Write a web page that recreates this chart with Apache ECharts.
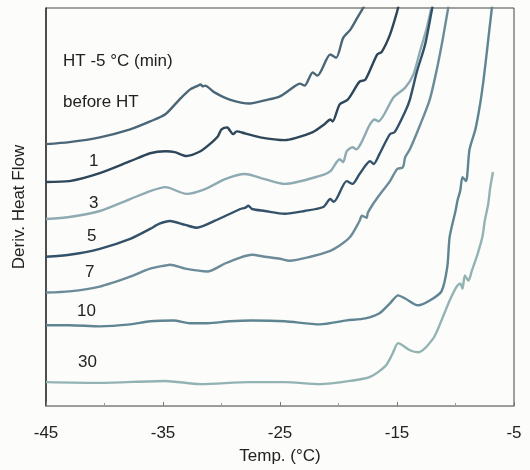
<!DOCTYPE html>
<html>
<head>
<meta charset="utf-8">
<script src="https://cdn.jsdelivr.net/npm/echarts@6/dist/echarts.min.js"></script>
<style>
  html, body { margin: 0; padding: 0; background: #fcfcfa; }
  #chart { width: 530px; height: 470px; }
</style>
</head>
<body>
<div id="chart"></div>
<script>
// x ticks (deg C)
var xTicks = [-45, -35, -25, -15, -5];

// curves: [temp, deriv. heat flow (arb.)]
var beforeHT = [[-45, 65.8], [-43, 66.3], [-40.4, 67.5], [-37.8, 69.5], [-36.1, 71.5], [-34.8, 73.3],
  [-33.6, 77], [-32.7, 79.5], [-32.0, 80.5], [-31.8, 80.8], [-31.6, 80.3], [-31.4, 80.5], [-30.6, 78.8],
  [-29.3, 77], [-27.6, 76], [-26.3, 76.8], [-25, 77.8], [-23.9, 80], [-23.3, 81], [-22.9, 80.5],
  [-22.2, 83.8], [-21.8, 83], [-20.7, 88.3], [-20.2, 87.5], [-19.6, 92.5], [-19.0, 94.5], [-18.4, 97.5],
  [-17.7, 101]];
var ht1 = [[-45, 56.3], [-43, 56.5], [-40.4, 58.5], [-37.8, 61.5], [-36.1, 63.5], [-34.8, 64], [-34.0, 63.8],
  [-33.0, 62.8], [-31.8, 64], [-31.0, 65.8], [-30.3, 67.8], [-30.0, 69.5], [-29.5, 70], [-29.3, 69.3],
  [-29.0, 68.3], [-28.7, 69], [-28.0, 68.5], [-26.7, 67.5], [-24.6, 66.8], [-23.7, 67.3], [-22.2, 68.8],
  [-21.2, 70.8], [-20.7, 72], [-20.5, 71.5], [-19.9, 75.8], [-19.2, 77], [-18.2, 81.5], [-17.7, 82],
  [-16.7, 88.3], [-16.3, 89], [-15.6, 93.3], [-15.0, 99], [-14.8, 101.5]];
var ht3 = [[-45, 47], [-43, 47.5], [-40.4, 49], [-37.8, 52], [-36.1, 54], [-34.8, 55], [-33.0, 53.3],
  [-31.4, 54.5], [-29.7, 57], [-28.0, 58.3], [-26.3, 57], [-24.6, 55.8], [-21.6, 57.8], [-20.7, 59],
  [-19.9, 62], [-19.6, 61.3], [-19.3, 64], [-18.8, 65], [-18.5, 64.5], [-17.3, 70.8], [-16.9, 72],
  [-16.6, 71.5], [-15.3, 77.5], [-14.3, 80], [-13.6, 83.3], [-13.0, 89.5], [-12.5, 94.5], [-12.0, 100.8]];
var ht5 = [[-45, 37.5], [-43, 38], [-40.4, 39.5], [-37.8, 42], [-36.1, 44.5], [-35.3, 45.8], [-34.4, 46.5],
  [-33.1, 45.5], [-32.1, 44.8], [-30.6, 46.5], [-28.4, 49.5], [-28.0, 49.8], [-27.7, 50.3], [-27.4, 49.5],
  [-26.3, 49], [-24.6, 48.3], [-22.9, 49], [-21.3, 50], [-20.7, 52], [-20.4, 51.3], [-19.3, 56.5],
  [-18.8, 55.8], [-18.2, 58.3], [-17.3, 61.5], [-17.0, 60.8], [-16.5, 63.3], [-15.6, 68.3], [-15.2, 68.8],
  [-14.3, 74], [-13.9, 77], [-13.3, 84], [-12.6, 90.8], [-12.0, 99.8], [-11.9, 101.3]];
var ht7 = [[-45, 28.5], [-43, 28.8], [-40.4, 30], [-37.8, 32.5], [-36.1, 34.5], [-34.8, 35.3], [-34.4, 35.5],
  [-33.1, 34.5], [-31.2, 33.8], [-29.7, 35.8], [-28.4, 37.3], [-27.4, 38], [-26.3, 37.5], [-25, 37],
  [-24.2, 36.5], [-22.4, 37.5], [-20.7, 39], [-19.9, 40.3], [-19.0, 42.5], [-18.2, 46.5], [-18.0, 47.8],
  [-17.6, 47.3], [-17.5, 48.5], [-17.1, 50.5], [-16.5, 53], [-15.6, 56.5], [-15.0, 59.5], [-14.5, 60],
  [-14.3, 62.5], [-13.9, 64.5], [-13.0, 70.8], [-12.2, 77], [-11.6, 84.5], [-11.1, 92], [-10.55, 101.3]];
var ht10 = [[-45, 20.3], [-43, 20.3], [-40.4, 20], [-37.8, 20.5], [-36.1, 21.3], [-34.1, 21.5], [-32.7, 20.8],
  [-31.2, 20.8], [-29.3, 21.3], [-27.4, 21.5], [-24.6, 21.3], [-21.6, 20.5], [-19.3, 21.5], [-17.7, 22],
  [-16.5, 23.3], [-15.6, 25.8], [-14.9, 27.8], [-14.3, 27], [-13.2, 25.3], [-12.2, 26.5], [-11.2, 28.8],
  [-10.7, 35], [-10.5, 42.5], [-10.0, 49], [-9.8, 52], [-9.6, 54], [-9.4, 57.5], [-9.1, 56.5], [-8.8, 64.5],
  [-8.3, 69.5], [-7.9, 75.8], [-7.6, 82], [-7.3, 89.5], [-6.9, 99.8], [-6.8, 101.5]];
var ht30 = [[-45, 6], [-40.4, 5.8], [-34.8, 6.3], [-31.8, 5.5], [-27.6, 6], [-24.6, 6], [-21.6, 5.5],
  [-19.0, 6.3], [-17.3, 7.3], [-16.0, 10], [-15.4, 13], [-14.9, 15.8], [-13.9, 14], [-13.2, 13.5],
  [-11.9, 17], [-11.2, 21.5], [-10.5, 26.5], [-9.9, 30], [-9.6, 30.8], [-9.4, 29.5], [-9.2, 32.8],
  [-8.9, 31.5], [-8.6, 34], [-8.1, 38.3], [-7.7, 42.5], [-7.5, 46.5], [-7.2, 50.8], [-7.05, 54.5], [-6.8, 58.8]];

var names = ['before HT', '1', '3', '5', '7', '10', '30'];
var curves = [beforeHT, ht1, ht3, ht5, ht7, ht10, ht30];
var colors = ['#4b6677', '#2d4659', '#8eaab2', '#33526a', '#6b8b99', '#5f8593', '#93b3b3'];

// label text positions (px)
var labels = [
  {text: 'HT -5 °C (min)', x: 63, y: 62},
  {text: 'before HT', x: 63, y: 103},
  {text: '1', x: 89, y: 162},
  {text: '3', x: 89, y: 204},
  {text: '5', x: 87, y: 237},
  {text: '7', x: 85, y: 273},
  {text: '10', x: 77, y: 312},
  {text: '30', x: 78, y: 363}
];

var chart = echarts.init(document.getElementById('chart'));

var series = curves.map(function (d, i) {
  return {
    name: names[i],
    type: 'line',
    data: d,
    showSymbol: false,
    smooth: 0.25,
    lineStyle: {color: colors[i], width: 2.4},
    itemStyle: {color: colors[i]}
  };
});

chart.setOption({
  backgroundColor: '#fcfcfa',
  animation: false,
  textStyle: {fontFamily: 'Liberation Sans, Arial, sans-serif'},
  grid: {
    left: 46, right: 16, top: 8, bottom: 62,
    show: true, borderColor: '#444', borderWidth: 1
  },
  xAxis: {
    type: 'value',
    min: -45, max: -5, interval: 10,
    name: 'Temp. (°C)',
    nameLocation: 'middle',
    nameGap: 42,
    nameTextStyle: {fontSize: 17, color: '#222'},
    axisLine: {lineStyle: {color: '#999', width: 1}},
    axisTick: {inside: true, length: 4, lineStyle: {color: '#777'}},
    minorTick: {show: true, splitNumber: 2, length: 3, lineStyle: {color: '#999'}},
    axisLabel: {fontSize: 17, color: '#222', margin: 19},
    splitLine: {show: false}
  },
  yAxis: {
    type: 'value',
    min: 0, max: 100,
    name: 'Deriv. Heat Flow',
    nameLocation: 'middle',
    nameGap: 18,
    nameTextStyle: {fontSize: 17, color: '#222'},
    axisLine: {show: true, lineStyle: {color: '#333', width: 1.5}},
    axisTick: {show: false},
    axisLabel: {show: false},
    splitLine: {show: false}
  },
  graphic: labels.map(function (l) {
    return {
      type: 'text', left: l.x, top: l.y - 9,
      style: {text: l.text, fontSize: 17, fill: '#222', fontFamily: 'Liberation Sans, Arial, sans-serif'}
    };
  }),
  series: series
});
</script>
</body>
</html>
